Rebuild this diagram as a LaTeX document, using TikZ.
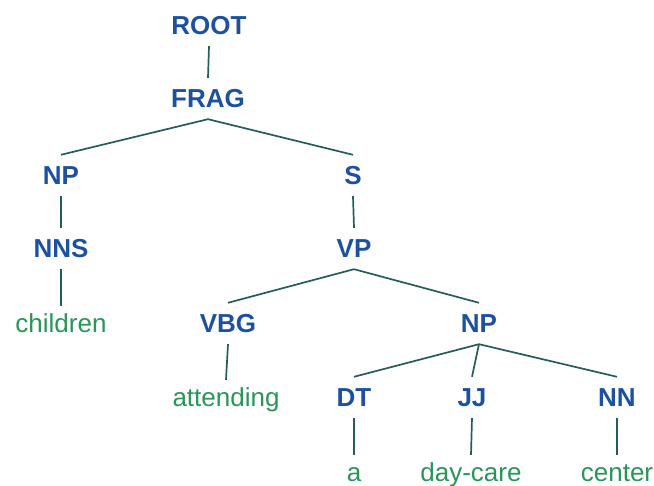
\documentclass[tikz,border=0pt]{standalone}
\usepackage{fontspec}
\setmainfont{Liberation Sans}
\definecolor{tagblue}{RGB}{28,80,160}
\definecolor{wordgreen}{RGB}{40,150,88}
\definecolor{edgeteal}{RGB}{38,92,92}
\begin{document}
\begin{tikzpicture}[x=1pt,y=1pt,
  tag/.style={anchor=base, font=\fontsize{26}{26}\selectfont\bfseries, text=tagblue,
    text height=19pt, text depth=0pt, inner xsep=0pt, inner ysep=11pt},
  word/.style={anchor=base, font=\fontsize{26}{26}\selectfont, text=wordgreen,
    text height=19pt, text depth=0pt, inner xsep=0pt, inner ysep=8pt},
  edge/.style={draw=edgeteal, line width=1.7pt}]
\useasboundingbox (0,0) rectangle (654,486);
% phrase and part-of-speech tags (baselines, y measured upward)
\node[tag] (root) at (209,451) {ROOT};
\node[tag] (frag) at (208,378) {FRAG};
\node[tag] (np1)  at (61,301)  {NP};
\node[tag] (s)    at (353,301) {S};
\node[tag] (nns)  at (61,228)  {NNS};
\node[tag] (vp)   at (354,228) {VP};
\node[tag] (vbg)  at (228,153) {VBG};
\node[tag] (np2)  at (479,153) {NP};
\node[tag] (dt)   at (354,79)  {DT};
\node[tag] (jj)   at (472,79)  {JJ};
\node[tag] (nn)   at (617,79)  {NN};
% words
\node[word] (w1) at (61,153)  {children};
\node[word] (w2) at (226,79)  {attending};
\node[word] (w3) at (354,4)   {a};
\node[word] (w4) at (471,4)   {day-care};
\node[word] (w5) at (617,4)   {center};
% branches
\draw[edge] (root.south) -- (frag.north);
\draw[edge] (frag.south) -- (np1.north);
\draw[edge] (frag.south) -- (s.north);
\draw[edge] (np1.south) -- (nns.north);
\draw[edge] (s.south) -- (vp.north);
\draw[edge] (nns.south) -- (w1.north);
\draw[edge] (vp.south) -- (vbg.north);
\draw[edge] (vp.south) -- (np2.north);
\draw[edge] (vbg.south) -- (w2.north);
\draw[edge] (np2.south) -- (dt.north);
\draw[edge] (np2.south) -- (jj.north);
\draw[edge] (np2.south) -- (nn.north);
\draw[edge] (dt.south) -- (w3.north);
\draw[edge] (jj.south) -- (w4.north);
\draw[edge] (nn.south) -- (w5.north);
\end{tikzpicture}
\end{document}
